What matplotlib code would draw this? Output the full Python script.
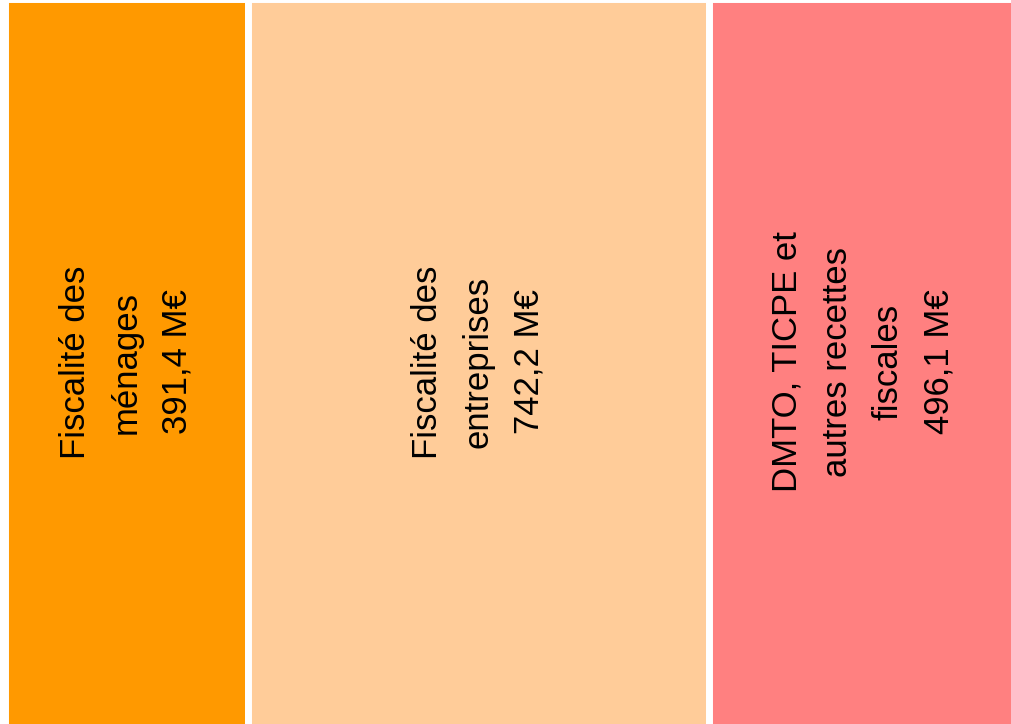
import numpy as np
import matplotlib
matplotlib.use('Agg')
import matplotlib.pyplot as plt
from matplotlib.transforms import blended_transform_factory

# recettes fiscales (M€)
categories = ['Fiscalité des\nménages', 'Fiscalité des\nentreprises',
              'DMTO, TICPE et\nautres recettes\nfiscales']
values = [391.4, 742.2, 496.1]
colors = ['#FF9900', '#FFCC99', '#FF8080']

plt.rcParams['font.family'] = ['Liberation Sans', 'DejaVu Sans']

fig = plt.figure(figsize=(10.12, 7.24), dpi=100)
ax = fig.add_axes([5 / 1012, -10 / 724, 1.0, 735 / 724])

lefts = np.concatenate([[0], np.cumsum(values)[:-1]])
ax.bar(lefts, [1] * len(values), width=values, align='edge',
       color=colors, edgecolor='white', linewidth=5.0)
ax.set_xlim(0, sum(values))
ax.set_ylim(0, 1)
ax.axis('off')

trans = blended_transform_factory(ax.transData, fig.transFigure)
for x0, w, cat in zip(lefts, values, categories):
    label = cat + '\n' + ('%.1f' % w).replace('.', ',') + ' M€'
    ax.text(x0 + w / 2, 0.5, label, transform=trans, rotation=90,
            ha='center', va='center', multialignment='center',
            fontsize=25, linespacing=1.68, color='black')

fig.savefig('out.png', dpi=100)
